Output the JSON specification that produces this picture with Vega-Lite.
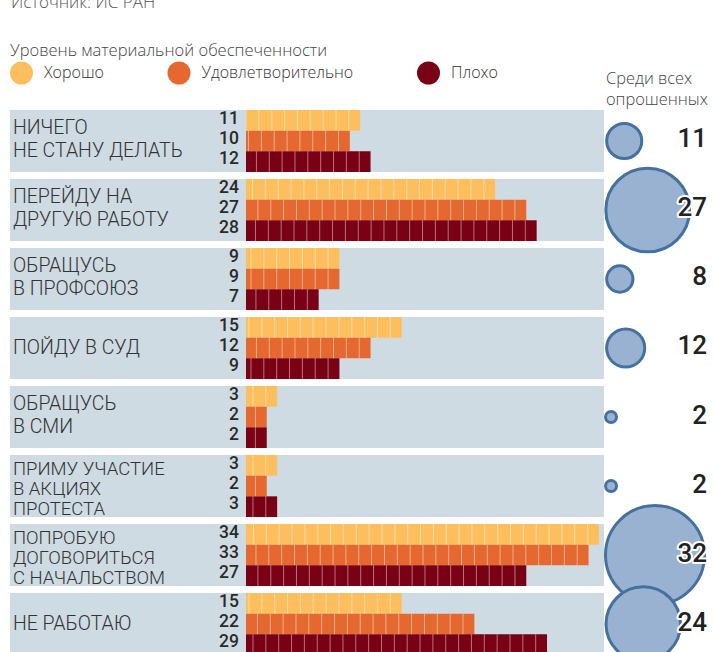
{
  "$schema": "https://vega.github.io/schema/vega-lite/v6.json",
  "width": 714,
  "height": 652,
  "autosize": "none",
  "padding": 0,
  "background": "white",
  "config": {"view": {"stroke": null}, "font": "Roboto"},
  "datasets": {
    "cats": [
      {"cat": "НИЧЕГО\nНЕ СТАНУ ДЕЛАТЬ", "total": 11},
      {"cat": "ПЕРЕЙДУ НА\nДРУГУЮ РАБОТУ", "total": 27},
      {"cat": "ОБРАЩУСЬ\nВ ПРОФСОЮЗ", "total": 8},
      {"cat": "ПОЙДУ В СУД", "total": 12},
      {"cat": "ОБРАЩУСЬ\nВ СМИ", "total": 2},
      {"cat": "ПРИМУ УЧАСТИЕ\nВ АКЦИЯХ\nПРОТЕСТА", "total": 2},
      {"cat": "ПОПРОБУЮ\nДОГОВОРИТЬСЯ\nС НАЧАЛЬСТВОМ", "total": 32},
      {"cat": "НЕ РАБОТАЮ", "total": 24}
    ],
    "bars": [
      {"cat": "НИЧЕГО\nНЕ СТАНУ ДЕЛАТЬ", "level": "Хорошо", "value": 11},
      {"cat": "НИЧЕГО\nНЕ СТАНУ ДЕЛАТЬ", "level": "Удовлетворительно", "value": 10},
      {"cat": "НИЧЕГО\nНЕ СТАНУ ДЕЛАТЬ", "level": "Плохо", "value": 12},
      {"cat": "ПЕРЕЙДУ НА\nДРУГУЮ РАБОТУ", "level": "Хорошо", "value": 24},
      {"cat": "ПЕРЕЙДУ НА\nДРУГУЮ РАБОТУ", "level": "Удовлетворительно", "value": 27},
      {"cat": "ПЕРЕЙДУ НА\nДРУГУЮ РАБОТУ", "level": "Плохо", "value": 28},
      {"cat": "ОБРАЩУСЬ\nВ ПРОФСОЮЗ", "level": "Хорошо", "value": 9},
      {"cat": "ОБРАЩУСЬ\nВ ПРОФСОЮЗ", "level": "Удовлетворительно", "value": 9},
      {"cat": "ОБРАЩУСЬ\nВ ПРОФСОЮЗ", "level": "Плохо", "value": 7},
      {"cat": "ПОЙДУ В СУД", "level": "Хорошо", "value": 15},
      {"cat": "ПОЙДУ В СУД", "level": "Удовлетворительно", "value": 12},
      {"cat": "ПОЙДУ В СУД", "level": "Плохо", "value": 9},
      {"cat": "ОБРАЩУСЬ\nВ СМИ", "level": "Хорошо", "value": 3},
      {"cat": "ОБРАЩУСЬ\nВ СМИ", "level": "Удовлетворительно", "value": 2},
      {"cat": "ОБРАЩУСЬ\nВ СМИ", "level": "Плохо", "value": 2},
      {"cat": "ПРИМУ УЧАСТИЕ\nВ АКЦИЯХ\nПРОТЕСТА", "level": "Хорошо", "value": 3},
      {"cat": "ПРИМУ УЧАСТИЕ\nВ АКЦИЯХ\nПРОТЕСТА", "level": "Удовлетворительно", "value": 2},
      {"cat": "ПРИМУ УЧАСТИЕ\nВ АКЦИЯХ\nПРОТЕСТА", "level": "Плохо", "value": 3},
      {"cat": "ПОПРОБУЮ\nДОГОВОРИТЬСЯ\nС НАЧАЛЬСТВОМ", "level": "Хорошо", "value": 34},
      {"cat": "ПОПРОБУЮ\nДОГОВОРИТЬСЯ\nС НАЧАЛЬСТВОМ", "level": "Удовлетворительно", "value": 33},
      {"cat": "ПОПРОБУЮ\nДОГОВОРИТЬСЯ\nС НАЧАЛЬСТВОМ", "level": "Плохо", "value": 27},
      {"cat": "НЕ РАБОТАЮ", "level": "Хорошо", "value": 15},
      {"cat": "НЕ РАБОТАЮ", "level": "Удовлетворительно", "value": 22},
      {"cat": "НЕ РАБОТАЮ", "level": "Плохо", "value": 29}
    ]
  },
  "resolve": {"scale": {"x": "independent"}},
  "layer": [
    {
      "layer": [
        {
          "data": {"name": "cats"},
          "mark": {"type": "bar", "color": "#cfdbe3"},
          "encoding": {
            "y": {"field": "cat", "type": "nominal", "axis": null, "sort": null,
                  "scale": {"type": "band", "range": [110, 655], "paddingInner": 0.1015, "paddingOuter": 0}},
            "x": {"datum": -22.74, "type": "quantitative", "axis": null},
            "x2": {"datum": 34.49}
          }
        },
        {
          "data": {"name": "cats"},
          "transform": [{"filter": "length(split(datum.cat, '\\n')) == 1"}],
          "mark": {"type": "text", "align": "left", "baseline": "middle", "fontSize": 19.5, "fontWeight": 300, "color": "#333", "dy": 0},
          "encoding": {
            "y": {"field": "cat", "type": "nominal", "axis": null, "sort": null},
            "x": {"datum": -22.45, "type": "quantitative", "axis": null},
            "text": {"field": "cat"}
          }
        },
        {
          "data": {"name": "cats"},
          "transform": [{"filter": "length(split(datum.cat, '\\n')) == 2"}],
          "mark": {"type": "text", "align": "left", "baseline": "middle", "lineBreak": "\n", "fontSize": 19.5, "fontWeight": 300, "color": "#333", "lineHeight": 23.3, "dy": -13.3},
          "encoding": {
            "y": {"field": "cat", "type": "nominal", "axis": null, "sort": null},
            "x": {"datum": -22.45, "type": "quantitative", "axis": null},
            "text": {"field": "cat"}
          }
        },
        {
          "data": {"name": "cats"},
          "transform": [{"filter": "length(split(datum.cat, '\\n')) == 3"}],
          "mark": {"type": "text", "align": "left", "baseline": "middle", "lineBreak": "\n", "fontSize": 18.5, "fontWeight": 300, "color": "#333", "lineHeight": 19.7, "dy": -16.8},
          "encoding": {
            "y": {"field": "cat", "type": "nominal", "axis": null, "sort": null},
            "x": {"datum": -22.45, "type": "quantitative", "axis": null},
            "text": {"field": "cat"}
          }
        },
        {
          "data": {"name": "bars"},
          "mark": {"type": "bar", "opacity": 1},
          "encoding": {
            "y": {"field": "cat", "type": "nominal", "axis": null, "sort": null},
            "yOffset": {"field": "level", "type": "nominal", "sort": ["Хорошо", "Удовлетворительно", "Плохо"],
                        "scale": {"paddingInner": 0, "paddingOuter": 0}},
            "x": {"field": "value", "type": "quantitative",
                  "scale": {"domain": [0, 36], "range": [246, 619.7], "zero": false, "nice": false},
                  "axis": null},
            "x2": {"datum": 0},
            "color": {"field": "level", "type": "nominal",
                      "scale": {"domain": ["Хорошо", "Удовлетворительно", "Плохо"], "range": ["#fdbf5e", "#e4682f", "#7a0015"]},
                      "legend": {"orient": "none", "legendX": 10, "legendY": 43, "direction": "horizontal",
                                 "title": "Уровень материальной обеспеченности", "titleFont": "Open Sans", "titleFontSize": 16.5, "titleFontWeight": 300,
                                 "titleColor": "#444", "titlePadding": 2, "titleLimit": 500, "labelFont": "Open Sans", "labelFontSize": 16, "labelFontWeight": 300,
                                 "labelColor": "#333", "labelLimit": 400, "symbolType": "circle", "symbolSize": 529, "symbolStrokeWidth": 0,
                                 "symbolOpacity": 1, "labelOffset": 11, "columnPadding": 63.5,
                                 "labelExpr": "datum.label == 'Удовлетворительно' ? datum.label + '\u00a0\u00a0' : datum.label"}}
          }
        },
        {
          "data": {"name": "bars"},
          "transform": [{"filter": "datum.level == 'Хорошо'"}],
          "mark": {"type": "rule", "color": "white", "opacity": 0.45, "strokeWidth": 20.67, "strokeDash": [1, 11.85], "strokeDashOffset": 2, "strokeCap": "butt", "yOffset": -20.67},
          "encoding": {
            "y": {"field": "cat", "type": "nominal", "axis": null, "sort": null},
            "x": {"field": "value", "type": "quantitative", "axis": null},
            "x2": {"datum": 0}
          }
        },
        {
          "data": {"name": "bars"},
          "transform": [{"filter": "datum.level == 'Удовлетворительно'"}],
          "mark": {"type": "rule", "color": "white", "opacity": 0.45, "strokeWidth": 20.67, "strokeDash": [1, 11.85], "strokeDashOffset": 2, "strokeCap": "butt", "yOffset": 0},
          "encoding": {
            "y": {"field": "cat", "type": "nominal", "axis": null, "sort": null},
            "x": {"field": "value", "type": "quantitative", "axis": null},
            "x2": {"datum": 0}
          }
        },
        {
          "data": {"name": "bars"},
          "transform": [{"filter": "datum.level == 'Плохо'"}],
          "mark": {"type": "rule", "color": "white", "opacity": 0.45, "strokeWidth": 20.67, "strokeDash": [1, 11.85], "strokeDashOffset": 2, "strokeCap": "butt", "yOffset": 20.67},
          "encoding": {
            "y": {"field": "cat", "type": "nominal", "axis": null, "sort": null},
            "x": {"field": "value", "type": "quantitative", "axis": null},
            "x2": {"datum": 0}
          }
        },
        {
          "data": {"name": "bars"},
          "transform": [{"filter": "datum.level == 'Хорошо'"}],
          "mark": {"type": "text", "align": "right", "baseline": "middle", "dx": -7, "dy": -21.7, "fontSize": 17.5, "fontWeight": 500, "color": "#2a2a2a"},
          "encoding": {
            "y": {"field": "cat", "type": "nominal", "axis": null, "sort": null},
            "x": {"datum": 0, "type": "quantitative", "axis": null},
            "text": {"field": "value"}
          }
        },
        {
          "data": {"name": "bars"},
          "transform": [{"filter": "datum.level == 'Удовлетворительно'"}],
          "mark": {"type": "text", "align": "right", "baseline": "middle", "dx": -7, "dy": -1.7, "fontSize": 17.5, "fontWeight": 500, "color": "#2a2a2a"},
          "encoding": {
            "y": {"field": "cat", "type": "nominal", "axis": null, "sort": null},
            "x": {"datum": 0, "type": "quantitative", "axis": null},
            "text": {"field": "value"}
          }
        },
        {
          "data": {"name": "bars"},
          "transform": [{"filter": "datum.level == 'Плохо'"}],
          "mark": {"type": "text", "align": "right", "baseline": "middle", "dx": -7, "dy": 18.3, "fontSize": 17.5, "fontWeight": 500, "color": "#2a2a2a"},
          "encoding": {
            "y": {"field": "cat", "type": "nominal", "axis": null, "sort": null},
            "x": {"datum": 0, "type": "quantitative", "axis": null},
            "text": {"field": "value"}
          }
        },
        {
          "data": {"values": [{"t": "Источник: ИС РАН"}]},
          "mark": {"type": "text", "align": "left", "baseline": "alphabetic", "font": "Open Sans", "fontSize": 17, "fontWeight": 300, "color": "#555", "dy": -132.7},
          "encoding": {
            "y": {"datum": "НИЧЕГО\nНЕ СТАНУ ДЕЛАТЬ", "type": "nominal", "axis": null},
            "x": {"datum": -22.64, "type": "quantitative", "axis": null},
            "text": {"field": "t"}
          }
        }
      ]
    },
    {
      "layer": [
        {
          "data": {"name": "cats"},
          "mark": {"type": "point", "shape": "circle", "filled": true, "fill": "#9ab2d2", "stroke": "#4471a0", "strokeWidth": 3, "opacity": 1},
          "encoding": {
            "y": {"field": "cat", "type": "nominal", "axis": null, "sort": null},
            "x": {"field": "total", "type": "quantitative",
                  "scale": {"domain": [0, 32], "range": [608.1, 655], "zero": false, "nice": false},
                  "axis": null},
            "size": {"field": "total", "type": "quantitative", "legend": null,
                     "scale": {"type": "pow", "exponent": 2, "domain": [0, 32], "range": [83, 9801], "zero": false}}
          }
        },
        {
          "data": {"name": "cats"},
          "mark": {"type": "text", "align": "right", "baseline": "middle", "dy": -1.5, "fontSize": 26, "fontWeight": 500, "color": "#222", "stroke": "white", "strokeWidth": 4, "strokeJoin": "round"},
          "encoding": {
            "y": {"field": "cat", "type": "nominal", "axis": null, "sort": null},
            "x": {"datum": 67.5, "type": "quantitative", "axis": null},
            "text": {"field": "total"}
          }
        },
        {
          "data": {"name": "cats"},
          "mark": {"type": "text", "align": "right", "baseline": "middle", "dy": -1.5, "fontSize": 26, "fontWeight": 500, "color": "#222"},
          "encoding": {
            "y": {"field": "cat", "type": "nominal", "axis": null, "sort": null},
            "x": {"datum": 67.5, "type": "quantitative", "axis": null},
            "text": {"field": "total"}
          }
        },
        {
          "data": {"values": [{"t": "Среди всех\nопрошенных"}]},
          "mark": {"type": "text", "align": "left", "baseline": "alphabetic", "lineBreak": "\n", "lineHeight": 21, "font": "Open Sans", "fontSize": 16.4, "fontWeight": 300, "color": "#444", "dy": -57},
          "encoding": {
            "y": {"datum": "НИЧЕГО\nНЕ СТАНУ ДЕЛАТЬ", "type": "nominal", "axis": null},
            "x": {"datum": -1.43, "type": "quantitative", "axis": null},
            "text": {"field": "t"}
          }
        }
      ]
    }
  ]
}
